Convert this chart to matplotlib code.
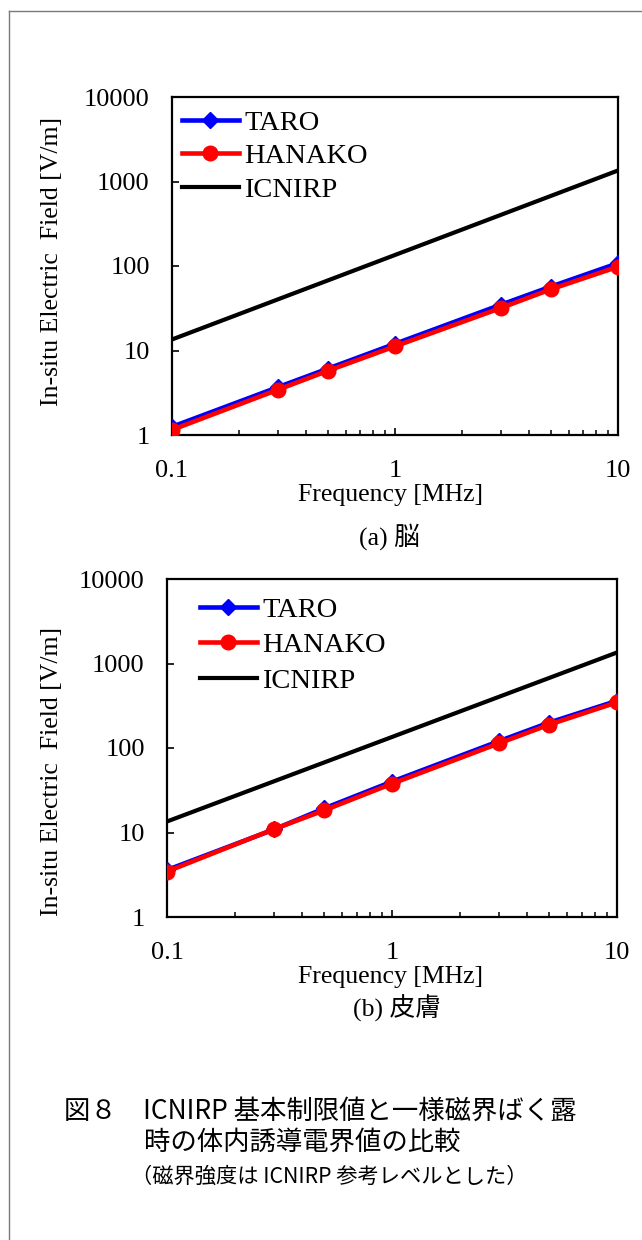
import matplotlib
matplotlib.use("Agg")
import matplotlib.pyplot as plt
from matplotlib.lines import Line2D
from matplotlib.ticker import FixedLocator, FixedFormatter, LogLocator, NullFormatter

# ---------------- data ----------------
freq_mhz = [0.1, 0.3, 0.5, 1, 3, 5, 10]

brain_taro = [1.25, 3.7, 6.1, 12.0, 35.0, 57.0, 108.0]
brain_hanako = [1.15, 3.45, 5.75, 11.2, 32.0, 53.0, 98.0]

skin_taro = [3.6, 10.9, 19.3, 40.0, 121.0, 200.0, 362.0]
skin_hanako = [3.45, 11.0, 18.3, 37.8, 114.0, 189.0, 347.0]

icnirp = [13.5, 40.5, 67.5, 135.0, 405.0, 675.0, 1350.0]

series_names = ["TARO", "HANAKO", "ICNIRP"]
y_ticks = [1, 10, 100, 1000, 10000]
y_tick_labels = ["1", "10", "100", "1000", "10000"]
x_ticks = [0.1, 1, 10]
x_tick_labels = ["0.1", "1", "10"]

xlabel = "Frequency [MHz]"
ylabel = "In-situ Electric  Field [V/m]"
sub_a = "(a) 脳"
sub_b = "(b) 皮膚"
cap1 = "図８　ICNIRP 基本制限値と一様磁界ばく露"
cap2 = "時の体内誘導電界値の比較"
cap3 = "（磁界強度は ICNIRP 参考レベルとした）"

# ---------------- style ----------------
SERIF = ["Liberation Serif", "Noto Sans CJK JP", "DejaVu Serif"]
GOTHIC = ["Noto Sans CJK JP", "DejaVu Sans"]
plt.rcParams["font.family"] = SERIF

W, H = 642, 1240
fig = plt.figure(figsize=(W / 100, H / 100), dpi=100)


def px_rect(l, t, r, b):
    return [l / W, 1 - b / H, (r - l) / W, (b - t) / H]


def make_axes(rect, taro, hanako, leg_anchor, lspace):
    ax = fig.add_axes(rect)
    ax.plot(freq_mhz, taro, color="#0000FF", lw=3.3, marker="D", ms=8,
            label=series_names[0], zorder=3)
    ax.plot(freq_mhz, hanako, color="#FF0000", lw=3.3, marker="o", ms=10.5,
            label=series_names[1], zorder=4)
    ax.plot(freq_mhz, icnirp, color="#000000", lw=3.0, label=series_names[2],
            zorder=2)
    ax.set_xscale("log")
    ax.set_yscale("log")
    ax.set_xlim(0.1, 10)
    ax.set_ylim(1, 10000)
    ax.yaxis.set_major_locator(FixedLocator(y_ticks))
    ax.yaxis.set_major_formatter(FixedFormatter(y_tick_labels))
    ax.yaxis.set_minor_locator(FixedLocator([]))
    ax.xaxis.set_major_locator(FixedLocator(x_ticks))
    ax.xaxis.set_major_formatter(FixedFormatter(x_tick_labels))
    ax.xaxis.set_minor_locator(LogLocator(base=10, subs=range(2, 10)))
    ax.xaxis.set_minor_formatter(NullFormatter())
    for s in ax.spines.values():
        s.set_linewidth(1.6)
    ax.tick_params(axis="both", which="major", direction="in", length=5,
                   width=1.2, labelsize=19)
    ax.tick_params(axis="x", which="minor", direction="in", length=3.5,
                   width=1.1)
    ax.tick_params(axis="y", which="major", pad=16)
    ax.tick_params(axis="x", which="major", pad=18)
    for lab in ax.get_xticklabels() + ax.get_yticklabels():
        lab.set_family(SERIF)
    ax.legend(loc="upper left", bbox_to_anchor=leg_anchor,
              bbox_transform=fig.transFigure, frameon=False, borderpad=0,
              borderaxespad=0, handlelength=2.0, handletextpad=0.18,
              labelspacing=lspace, prop={"family": SERIF, "size": 20.5})
    return ax


ax1 = make_axes(px_rect(172, 97, 618, 435), brain_taro, brain_hanako,
                (182 / W, 1 - 110 / H), 0.26)
ax2 = make_axes(px_rect(167, 579, 617, 917), skin_taro, skin_hanako,
                (200 / W, 1 - 597 / H), 0.33)

# axis labels as figure text (positions as in reference)
fig.text(52 / W, 1 - 261.5 / H, ylabel, rotation=90, ha="center", va="center",
         fontsize=18.5, family=SERIF)
fig.text(52 / W, 1 - 771 / H, ylabel, rotation=90, ha="center", va="center",
         fontsize=18.5, family=SERIF)
fig.text(390 / W, 1 - 495 / H, xlabel, ha="center", va="center",
         fontsize=18.5, family=SERIF)
fig.text(390 / W, 1 - 977 / H, xlabel, ha="center", va="center",
         fontsize=18.5, family=SERIF)
fig.text(389 / W, 1 - 537 / H, sub_a, ha="center", va="center",
         fontsize=18.5, family=SERIF)
fig.text(397 / W, 1 - 1008 / H, sub_b, ha="center", va="center",
         fontsize=18.5, family=SERIF)

# caption
fig.text(64 / W, 1 - 1111 / H, cap1, ha="left", va="center", fontsize=19,
         family=GOTHIC)
fig.text(144 / W, 1 - 1142 / H, cap2, ha="left", va="center", fontsize=19,
         family=GOTHIC)
fig.text(131 / W, 1 - 1177 / H, cap3, ha="left", va="center", fontsize=15.3,
         family=GOTHIC)

# page frame (left and top border)
fig.add_artist(Line2D([9 / W, 9 / W], [0, 1 - 11 / H], color="#7a7a7a", lw=1.0))
fig.add_artist(Line2D([9 / W, 1], [1 - 11 / H, 1 - 11 / H], color="#7a7a7a", lw=1.0))

fig.savefig("out.png", dpi=100)
